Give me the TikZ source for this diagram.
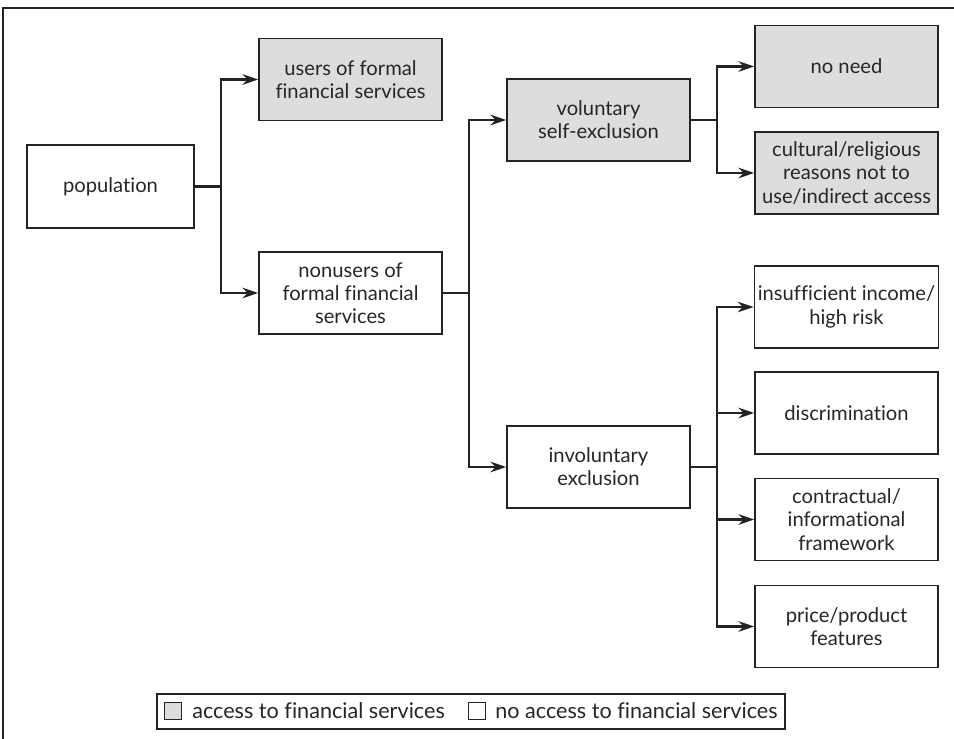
\documentclass[tikz,border=0pt]{standalone}
\usepackage{fontspec}
\setmainfont{Lato}[Ligatures=NoCommon]
\usetikzlibrary{positioning,arrows.meta}

\definecolor{boxgray}{RGB}{220,221,223}
\definecolor{linegray}{RGB}{35,35,35}

\tikzset{
  box/.style={draw=linegray, line width=0.9pt, rectangle, align=center,
    minimum width=3.66cm, minimum height=1.64cm, inner sep=2pt,
    font=\fontsize{11.5}{13.2}\selectfont, text=black!85},
  access/.style={box, fill=boxgray},
  noaccess/.style={box, fill=white},
  link/.style={draw=linegray, line width=1.2pt},
  arrow/.style={link, -{Stealth[length=9pt, width=6pt, inset=3pt]}},
  swatch/.style={draw=linegray, line width=0.8pt, minimum size=0.33cm, inner sep=0pt},
  legtext/.style={font=\fontsize{12.3}{14}\selectfont, inner sep=0pt, anchor=west, text=black!85}
}

\begin{document}
\begin{tikzpicture}[x=0.02cm, y=-0.02cm]

\useasboundingbox (0,0) rectangle (954,739);

% frame
\draw[linegray, line width=0.8pt] (3,739) -- (3,8) -- (954,8);

% first level
\node[noaccess, minimum width=3.34cm, minimum height=1.66cm] (pop) at (110.5,186.5) {population};
\node[access] (users) at (350.5,79.5) {users of formal\\financial services};
\node[noaccess] (nonusers) at (350.5,293) {nonusers of\\formal financial\\services};

% second level
\node[access] (vol) at (598.5,120) {voluntary\\self-exclusion};
\node[noaccess] (invol) at (598.5,467) {involuntary\\exclusion};

% third level
\node[access] (noneed) at (846.5,66.5) {no need};
\node[access] (cult) at (846.5,173) {cultural/religious\\reasons not to\\use/indirect access};
\node[noaccess] (income) at (846.5,307) {insufficient income/\\high risk};
\node[noaccess] (discr) at (846.5,413) {discrimination};
\node[noaccess] (contract) at (846.5,519.5) {contractual/\\informational\\framework};
\node[noaccess] (price) at (846.5,626.5) {price/product\\features};

% connectors
\draw[link] (pop.east) -- ++(26,0) coordinate (f1);
\draw[arrow] (f1) |- (users.west);
\draw[arrow] (f1) |- (nonusers.west);

\draw[link] (nonusers.east) -- ++(26,0) coordinate (f2);
\draw[arrow] (f2) |- (vol.west);
\draw[arrow] (f2) |- (invol.west);

\draw[link] (vol.east) -- ++(26,0) coordinate (f3);
\draw[arrow] (f3) |- (noneed.west);
\draw[arrow] (f3) |- (cult.west);

\draw[link] (invol.east) -- ++(26,0) coordinate (f4);
\draw[arrow] (f4) |- (income.west);
\draw[arrow] (f4) |- (discr.west);
\draw[arrow] (f4) |- (contract.west);
\draw[arrow] (f4) |- (price.west);

% legend
\node[draw=linegray, line width=0.8pt, minimum width=12.56cm, minimum height=0.7cm,
  inner sep=0pt] (legend) at (471,711.5) {};
\node[swatch, fill=boxgray] (sw1) at (173,711) {};
\node[legtext, right=0.2cm of sw1] (leg1) {access to financial services};
\node[swatch, fill=white] (sw2) at (477,711) {};
\node[legtext, right=0.18cm of sw2] (leg2) {no access to financial services};

\end{tikzpicture}
\end{document}
